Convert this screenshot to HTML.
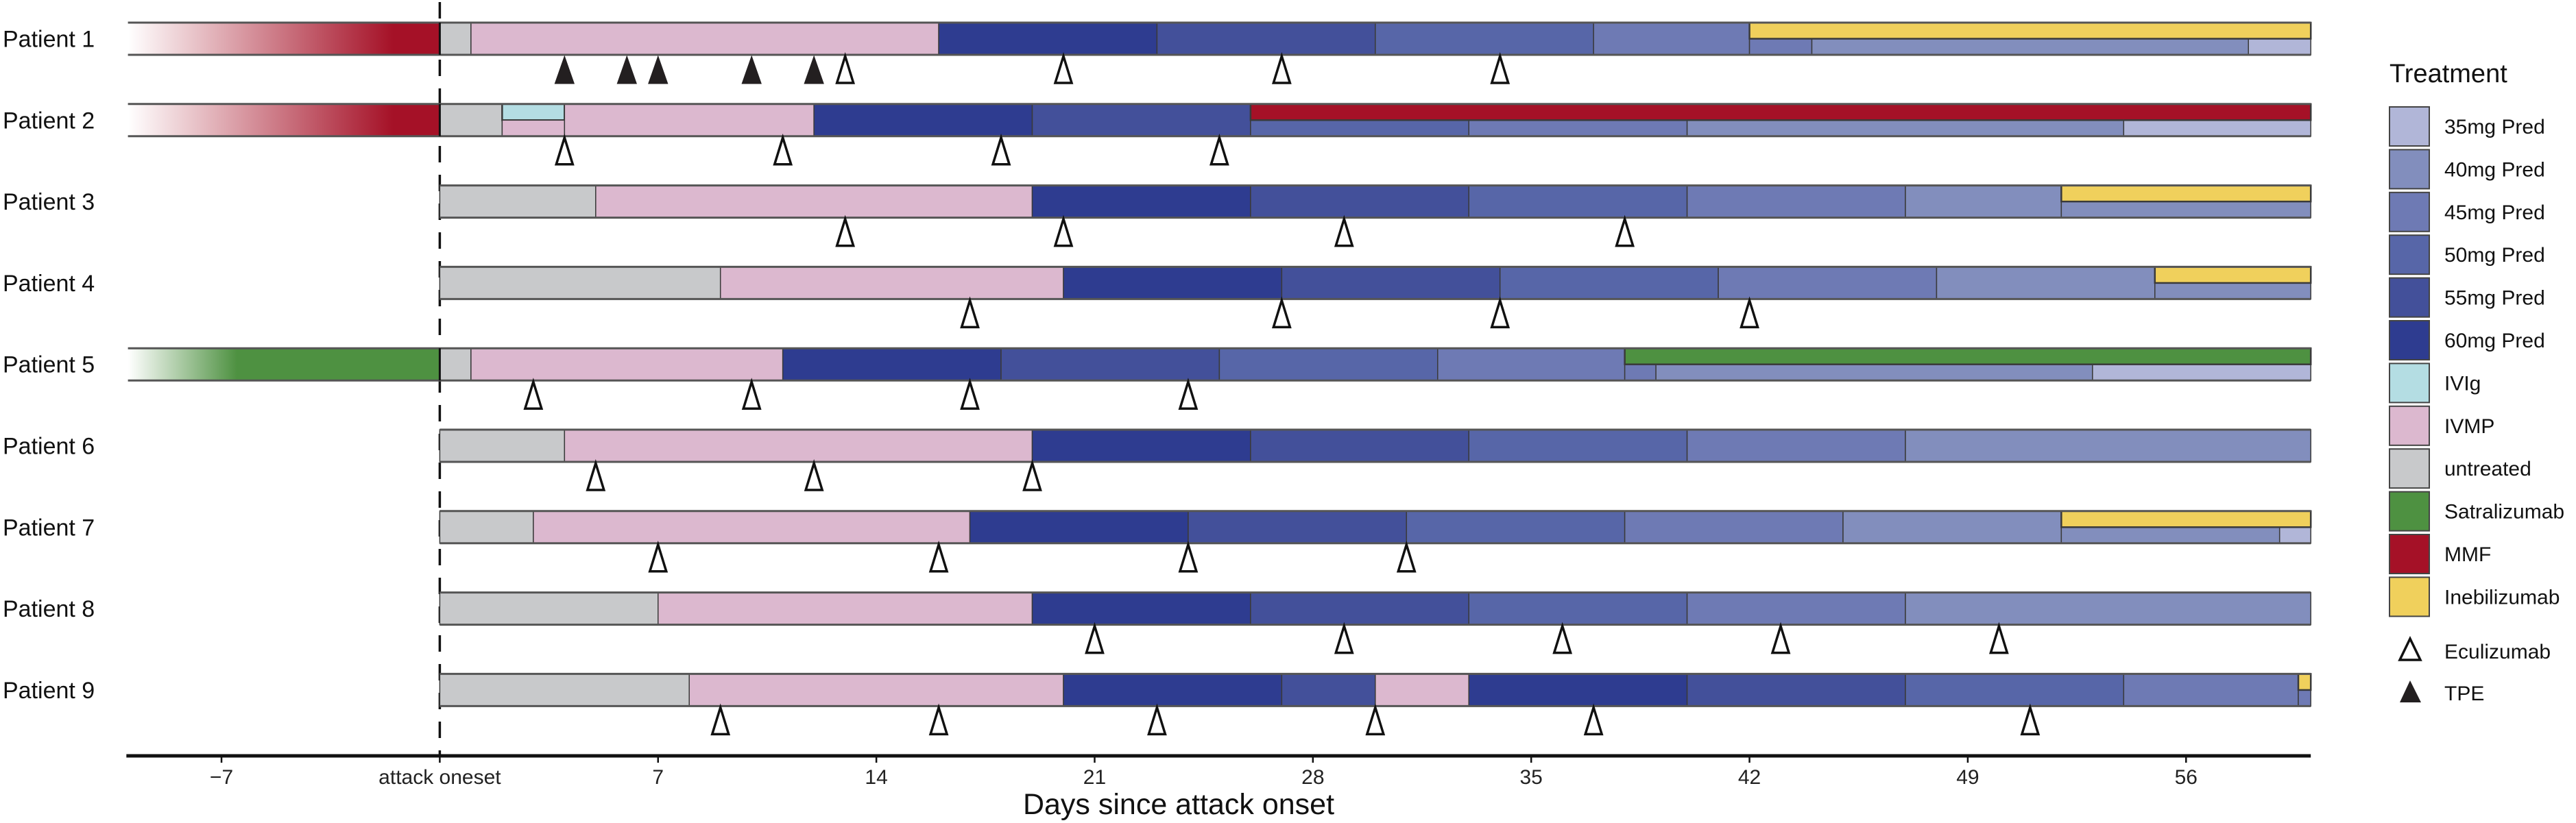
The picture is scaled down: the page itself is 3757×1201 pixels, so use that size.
<!DOCTYPE html>
<html><head><meta charset="utf-8"><style>
html,body{margin:0;padding:0;background:#fff;}
svg{display:block;font-family:"Liberation Sans",Arial,sans-serif;}
</style></head><body>
<svg id="chart" width="3757" height="1201" viewBox="0 0 3757 1201" xmlns="http://www.w3.org/2000/svg">
<defs>
<linearGradient id="gMMF" x1="0" x2="1" y1="0" y2="0"><stop offset="0" stop-color="#a51127" stop-opacity="0"/><stop offset="0.85" stop-color="#a51127" stop-opacity="1"/><stop offset="1" stop-color="#a51127"/></linearGradient>
<linearGradient id="gSat" x1="0" x2="1" y1="0" y2="0"><stop offset="0" stop-color="#4e9141" stop-opacity="0"/><stop offset="0.35" stop-color="#4e9141" stop-opacity="1"/><stop offset="1" stop-color="#4e9141"/></linearGradient>
</defs>
<g id="plot"></g>
<g id="legend"></g>
</svg>
<script>
const patients = ["Patient 1","Patient 2","Patient 3","Patient 4","Patient 5","Patient 6","Patient 7","Patient 8","Patient 9"];
const xTicks = [-7,0,7,14,21,28,35,42,49,56];
const xTickLabels = ["\u22127","attack oneset","7","14","21","28","35","42","49","56"];
// segments: [start, end, treatment, part] part: f=full, u=upper half, l=lower half
const seg1 = [[-10,0,"MMFg","f"],[0,1,"untreated","f"],[1,16,"IVMP","f"],[16,23,"p60","f"],[23,30,"p55","f"],[30,37,"p50","f"],[37,42,"p45","f"],[42,44,"p45","l"],[44,58,"p40","l"],[58,60,"p35","l"],[42,60,"Inebilizumab","u"]];
const seg2 = [[-10,0,"MMFg","f"],[0,2,"untreated","f"],[2,4,"IVIg","u"],[2,4,"IVMP","l"],[4,12,"IVMP","f"],[12,19,"p60","f"],[19,26,"p55","f"],[26,33,"p50","l"],[33,40,"p45","l"],[40,54,"p40","l"],[54,60,"p35","l"],[26,60,"MMF","u"]];
const seg3 = [[0,5,"untreated","f"],[5,19,"IVMP","f"],[19,26,"p60","f"],[26,33,"p55","f"],[33,40,"p50","f"],[40,47,"p45","f"],[47,52,"p40","f"],[52,60,"p40","l"],[52,60,"Inebilizumab","u"]];
const seg4 = [[0,9,"untreated","f"],[9,20,"IVMP","f"],[20,27,"p60","f"],[27,34,"p55","f"],[34,41,"p50","f"],[41,48,"p45","f"],[48,55,"p40","f"],[55,60,"p40","l"],[55,60,"Inebilizumab","u"]];
const seg5 = [[-10,0,"Satg","f"],[0,1,"untreated","f"],[1,11,"IVMP","f"],[11,18,"p60","f"],[18,25,"p55","f"],[25,32,"p50","f"],[32,38,"p45","f"],[38,39,"p45","l"],[39,53,"p40","l"],[53,60,"p35","l"],[38,60,"Satralizumab","u"]];
const seg6 = [[0,4,"untreated","f"],[4,19,"IVMP","f"],[19,26,"p60","f"],[26,33,"p55","f"],[33,40,"p50","f"],[40,47,"p45","f"],[47,60,"p40","f"]];
const seg7 = [[0,3,"untreated","f"],[3,17,"IVMP","f"],[17,24,"p60","f"],[24,31,"p55","f"],[31,38,"p50","f"],[38,45,"p45","f"],[45,52,"p40","f"],[52,59,"p40","l"],[59,60,"p35","l"],[52,60,"Inebilizumab","u"]];
const seg8 = [[0,7,"untreated","f"],[7,19,"IVMP","f"],[19,26,"p60","f"],[26,33,"p55","f"],[33,40,"p50","f"],[40,47,"p45","f"],[47,60,"p40","f"]];
const seg9 = [[0,8,"untreated","f"],[8,20,"IVMP","f"],[20,27,"p60","f"],[27,30,"p55","f"],[30,33,"IVMP","f"],[33,40,"p60","f"],[40,47,"p55","f"],[47,54,"p50","f"],[54,59.6,"p45","f"],[59.6,60,"p45","l"],[59.6,60,"Inebilizumab","u"]];
const segments = [seg1,seg2,seg3,seg4,seg5,seg6,seg7,seg8,seg9];
const ecu1=[13,20,27,34], ecu2=[4,11,18,25], ecu3=[13,20,29,38], ecu4=[17,27,34,42], ecu5=[3,10,17,24], ecu6=[5,12,19], ecu7=[7,16,24,31], ecu8=[21,29,36,43,50], ecu9=[9,16,23,30,37,51];
const eculizumab=[ecu1,ecu2,ecu3,ecu4,ecu5,ecu6,ecu7,ecu8,ecu9];
const tpe1=[4,6,7,10,12];
const tpe=[tpe1,[],[],[],[],[],[],[],[]];
const legendLabels=["35mg Pred","40mg Pred","45mg Pred","50mg Pred","55mg Pred","60mg Pred","IVIg","IVMP","untreated","Satralizumab","MMF","Inebilizumab"];
const legendKeys=["p35","p40","p45","p50","p55","p60","IVIg","IVMP","untreated","Satralizumab","MMF","Inebilizumab"];

const colors={p35:"#b1b6d8",p40:"#828ebd",p45:"#6e7ab4",p50:"#5766a8",p55:"#43509a",p60:"#2e3c90",IVIg:"#b4dde3",IVMP:"#dcb8cf",untreated:"#c8c9cb",Satralizumab:"#4e9141",MMF:"#a51127",Inebilizumab:"#f0d05c",MMFg:"url(#gMMF)",Satg:"url(#gSat)"};
const NS="http://www.w3.org/2000/svg";
const X0=641.4, PX=45.48;
const xs=d=>X0+PX*d;
const rowTop=i=>33+i*118.8;
const BH=47;
const plot=document.getElementById("plot");
function mk(tag,attrs,parent){const e=document.createElementNS(NS,tag);for(const k in attrs)e.setAttribute(k,attrs[k]);(parent||plot).appendChild(e);return e;}

// dashed onset line
const dl=mk("line",{x1:xs(0),x2:xs(0),y1:3,y2:1103,stroke:"#111","stroke-width":3.5,"stroke-dasharray":"24,18"});



patients.forEach((p,i)=>{
  const top=rowTop(i);
  const g=mk("g",{});
  
  
  const t=mk("text",{x:4,y:top+BH/2+12,"font-size":34,fill:"#111"},g);
  t.textContent=p;
  
  
  const s=segments[i];
  let minS=Math.min(...s.map(a=>a[0]));
  s.forEach(a=>{
    const y=a[3]==="l"?top+BH/2:top;
    const h=a[3]==="f"?BH:BH/2;
    const grad=a[2]==="MMFg"||a[2]==="Satg";
    const r=mk("rect",{x:xs(a[0]),y:y,width:xs(a[1])-xs(a[0]),height:h,fill:colors[a[2]],stroke:grad?"none":"#3a3a3a","stroke-width":a[3]==="u"?2.5:1.5},g);
    
    
  });
  // outer top/bottom lines
  const l1=mk("line",{x1:xs(minS),x2:xs(60),y1:top,y2:top,stroke:"#555","stroke-width":3},g);
  
  
  const l2=mk("line",{x1:xs(minS),x2:xs(60),y1:top+BH,y2:top+BH,stroke:"#555","stroke-width":3},g);
  
  
  if(minS<0){const vl=mk("line",{x1:xs(0),x2:xs(0),y1:top,y2:top+BH,stroke:"#111","stroke-width":3},g);
    
    }
  eculizumab[i].forEach(d=>{
    const b=top+BH+2;
    const tr=mk("polygon",{points:`${xs(d)},${b} ${xs(d)-12},${b+39} ${xs(d)+12},${b+39}`,fill:"#fff",stroke:"#111","stroke-width":3.5,"stroke-linejoin":"miter"},g);
    
    
  });
  tpe[i].forEach(d=>{
    const b=top+BH+2;
    const tr=mk("polygon",{points:`${xs(d)},${b} ${xs(d)-14},${b+40} ${xs(d)+14},${b+40}`,fill:"#231f20",stroke:"#231f20","stroke-width":1},g);
    
    
  });
});

// x axis
const ax=mk("line",{x1:xs(-10.05),x2:xs(60),y1:1103,y2:1103,stroke:"#111","stroke-width":5});


xTicks.forEach((d,k)=>{
  const tk=mk("line",{x1:xs(d),x2:xs(d),y1:1103,y2:1113,stroke:"#111","stroke-width":2.5});
  
  
  const tl=mk("text",{x:xs(d),y:1144,"font-size":30,"text-anchor":"middle",fill:"#222"});
  tl.textContent=xTickLabels[k];
  
  
});
const at=mk("text",{x:1719,y:1188,"font-size":43,"text-anchor":"middle",fill:"#111"});
at.textContent="Days since attack onset";



// legend
const lg=document.getElementById("legend");
const lt=mk("text",{x:3485,y:120,"font-size":38,fill:"#111"},lg);
lt.textContent="Treatment";


legendLabels.forEach((lab,k)=>{
  const y=156+k*62.4;
  const sw=mk("rect",{x:3485,y:y,width:58,height:57,fill:colors[legendKeys[k]],stroke:"#444","stroke-width":2},lg);
  
  
  const tx=mk("text",{x:3565,y:y+39,"font-size":30,fill:"#111"},lg);
  tx.textContent=lab;
  
  
});
const e1=mk("polygon",{points:"3515,932 3500,963 3530,963",fill:"#fff",stroke:"#111","stroke-width":3.5},lg);


const e1t=mk("text",{x:3565,y:961,"font-size":30,fill:"#111"},lg);
e1t.textContent="Eculizumab";


const e2=mk("polygon",{points:"3515,993 3500,1025 3531,1025",fill:"#231f20"},lg);


const e2t=mk("text",{x:3565,y:1022,"font-size":30,fill:"#111"},lg);
e2t.textContent="TPE";


</script>
</body></html>
